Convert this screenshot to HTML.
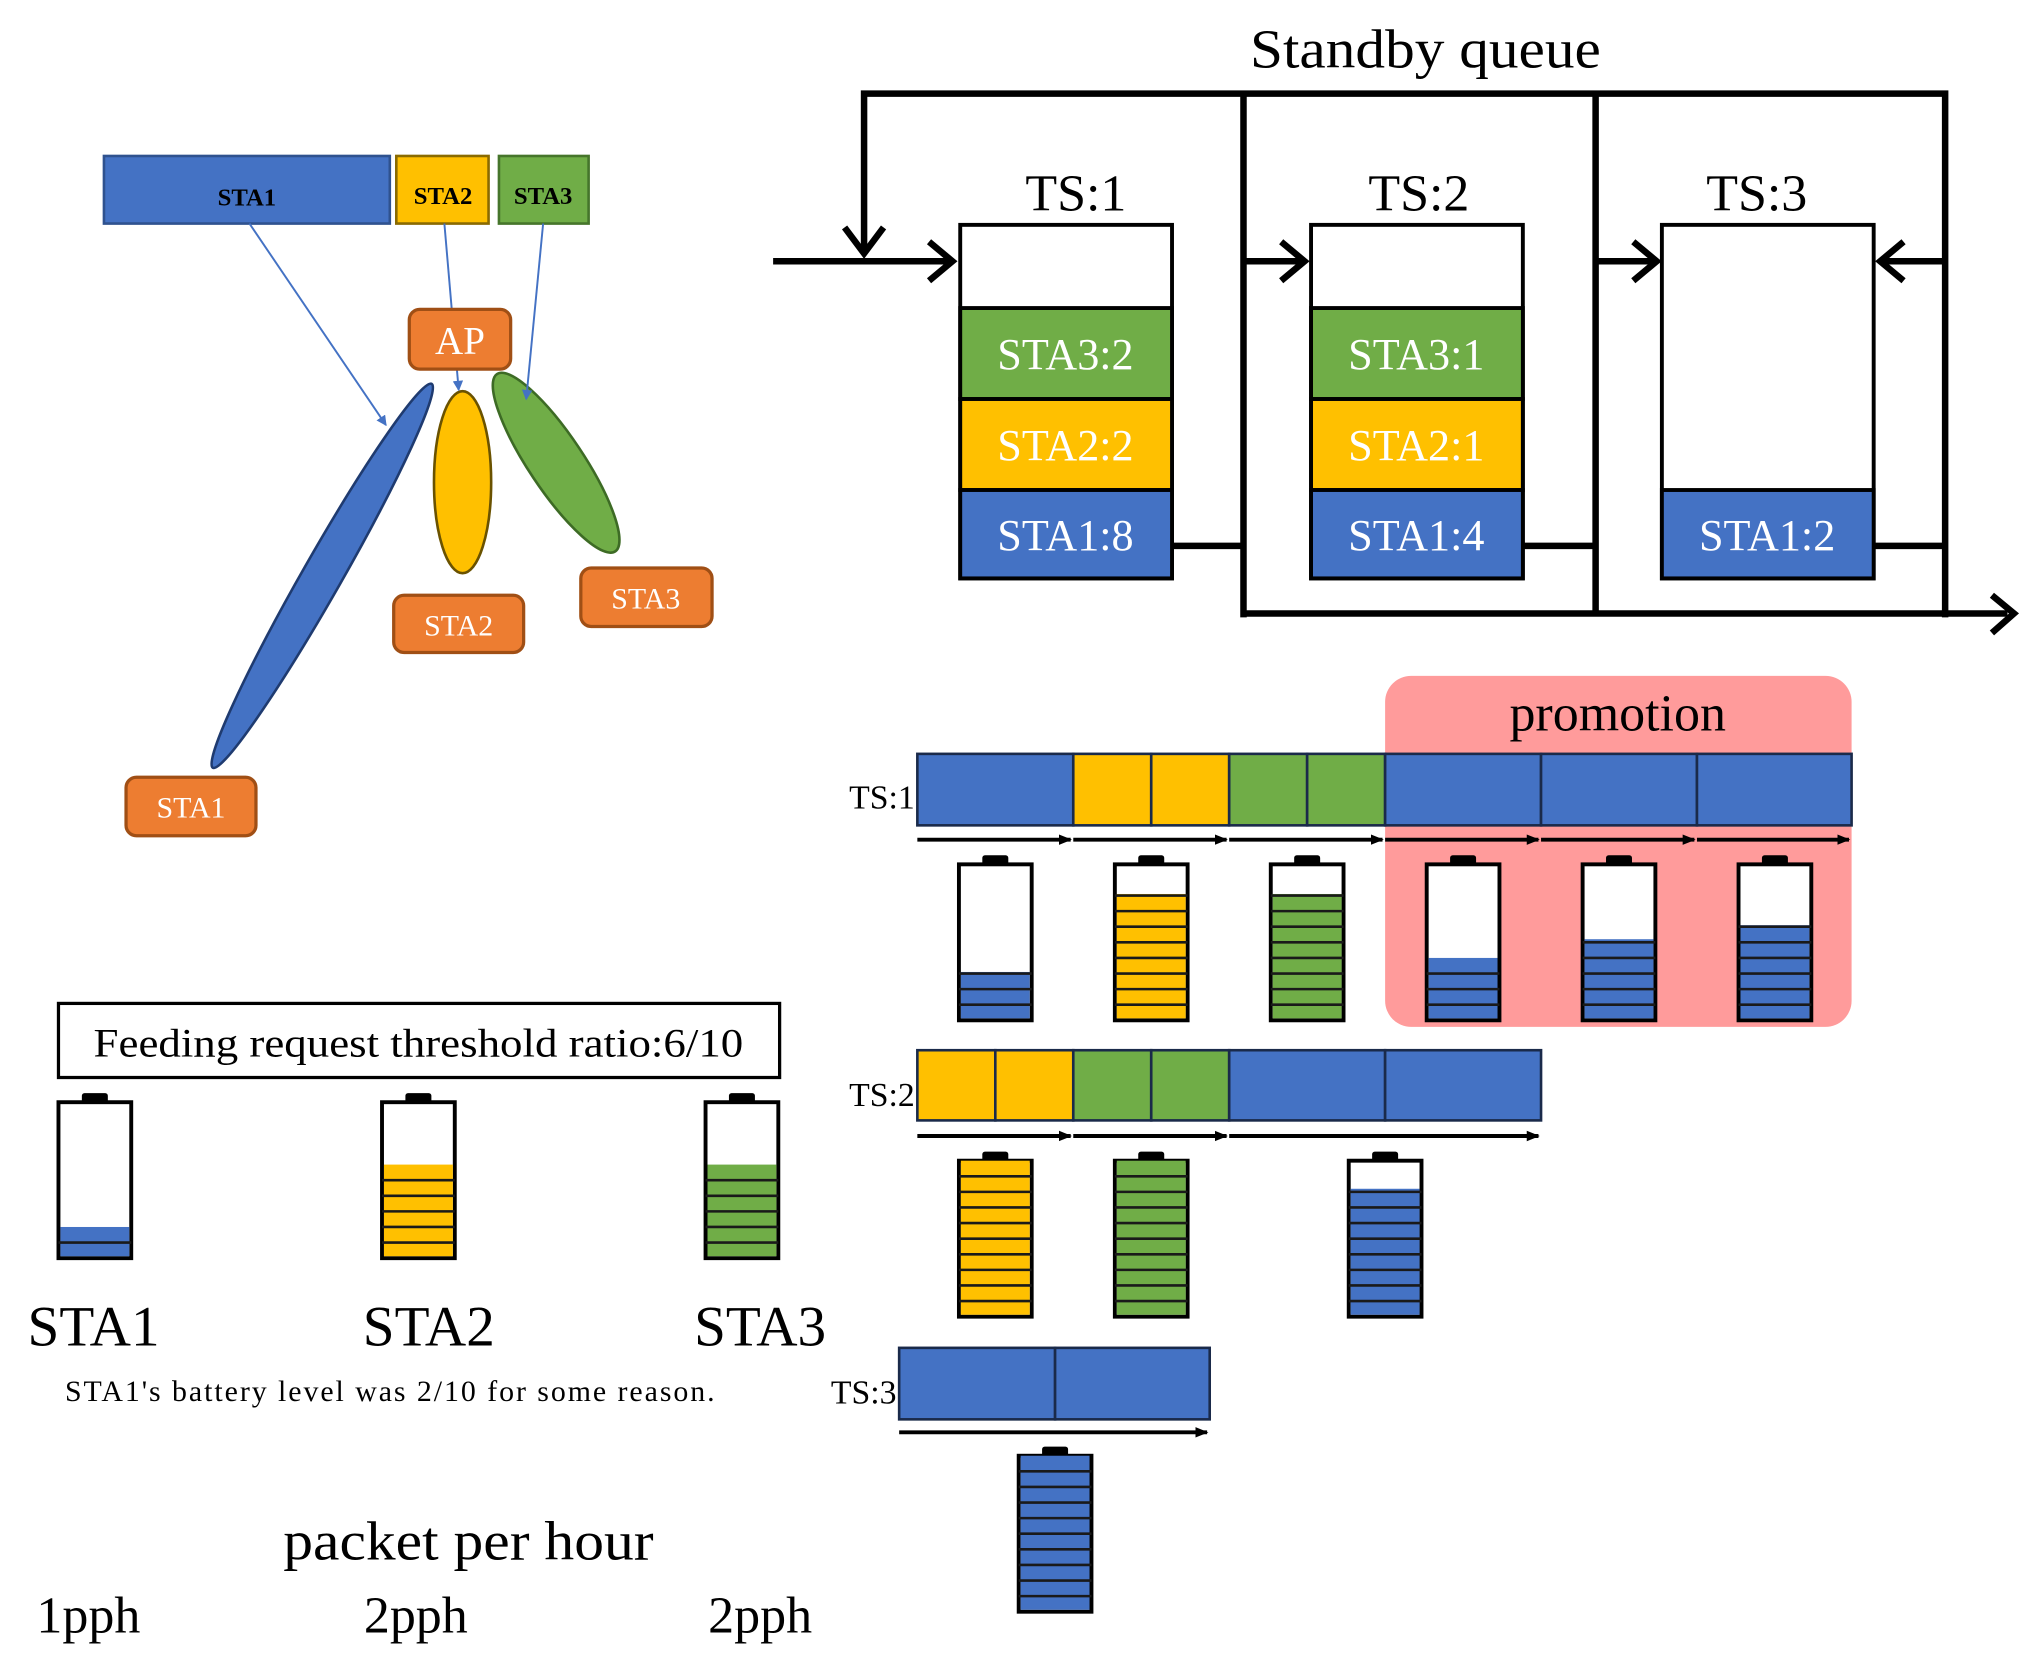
<!DOCTYPE html>
<html><head><meta charset="utf-8"><style>
html,body{margin:0;padding:0;background:#fff;}
svg{display:block;}
text{font-family:"Liberation Serif",serif;}
</style></head><body>
<svg id="s" width="2027" height="1678" viewBox="0 0 1560 1291" preserveAspectRatio="none" xmlns="http://www.w3.org/2000/svg">
<defs>
<marker id="ab" markerWidth="8" markerHeight="8" refX="7" refY="4" orient="auto" markerUnits="userSpaceOnUse"><path d="M0,0 L8,4 L0,8 z" fill="#4472C4"/></marker>
<marker id="ak" markerWidth="10" markerHeight="10" refX="9" refY="5" orient="auto" markerUnits="userSpaceOnUse"><path d="M0,1 L10,5 L0,9 z" fill="#000"/></marker>
</defs>
<!-- top-left -->
<rect x="80" y="120" width="220" height="52" fill="#4472C4" stroke="#2F528F" stroke-width="2"/>
<rect x="305" y="120" width="71" height="52" fill="#FFC000" stroke="#8a6a00" stroke-width="2"/>
<rect x="384" y="120" width="69" height="52" fill="#70AD47" stroke="#46752b" stroke-width="2"/>
<text x="190" y="158" font-size="19" font-weight="bold" text-anchor="middle">STA1</text>
<text x="341" y="157" font-size="19" font-weight="bold" text-anchor="middle">STA2</text>
<text x="418" y="157" font-size="19" font-weight="bold" text-anchor="middle">STA3</text>
<ellipse cx="248" cy="443" rx="170" ry="15" transform="rotate(-60.3 248 443)" fill="#4472C4" stroke="#1f3b70" stroke-width="2"/>
<ellipse cx="356" cy="371" rx="22" ry="70" fill="#FFC000" stroke="#6a5200" stroke-width="2"/>
<ellipse cx="428" cy="356" rx="82" ry="21" transform="rotate(56.3 428 356)" fill="#70AD47" stroke="#3d6b25" stroke-width="2"/>
<line x1="192" y1="172" x2="297" y2="327" stroke="#4472C4" stroke-width="1.5" marker-end="url(#ab)"/>
<line x1="342" y1="172" x2="353" y2="300" stroke="#4472C4" stroke-width="1.5" marker-end="url(#ab)"/>
<line x1="418" y1="172" x2="405" y2="307" stroke="#4472C4" stroke-width="1.5" marker-end="url(#ab)"/>
<g fill="#ED7D31" stroke="#a04f15" stroke-width="2.5">
<rect x="315" y="238" width="78" height="46" rx="8"/>
<rect x="303" y="458" width="100" height="44" rx="8"/>
<rect x="447" y="437" width="101" height="45" rx="8"/>
<rect x="97" y="598" width="100" height="45" rx="8"/>
</g>
<g fill="#fff" text-anchor="middle">
<text x="354" y="272" font-size="30">AP</text>
<text x="353" y="489" font-size="23">STA2</text>
<text x="497" y="468" font-size="23">STA3</text>
<text x="147" y="629" font-size="23">STA1</text>
</g>
<!-- standby queue -->
<text x="962" y="52" font-size="42" textLength="270" lengthAdjust="spacingAndGlyphs">Standby queue</text>
<g stroke="#000" stroke-width="5" fill="none">
<polyline points="665,195 665,72 1497,72 1497,475"/>
<line x1="957" y1="72" x2="957" y2="475"/>
<line x1="1228" y1="72" x2="1228" y2="472"/>
<line x1="957" y1="472" x2="1545" y2="472"/>
<polyline points="1533,458 1550,472 1533,487"/>
<line x1="595" y1="201" x2="733" y2="201"/>
<polyline points="715,186 733,201 715,216"/>
<polyline points="650,175 665,195 680,175"/>
<line x1="957" y1="201" x2="1003" y2="201"/>
<polyline points="986,186 1004,201 986,216"/>
<line x1="1228" y1="201" x2="1274" y2="201"/>
<polyline points="1257,186 1275,201 1257,216"/>
<line x1="1497" y1="201" x2="1448" y2="201"/>
<polyline points="1465,186 1447,201 1465,216"/>
<line x1="902" y1="420" x2="957" y2="420"/>
<line x1="1172" y1="420" x2="1228" y2="420"/>
<line x1="1442" y1="420" x2="1497" y2="420"/>
</g>
<g stroke="#000" stroke-width="3">
<rect x="739" y="173" width="163" height="272" fill="#fff"/>
<rect x="739" y="237" width="163" height="70" fill="#70AD47"/>
<rect x="739" y="307" width="163" height="70" fill="#FFC000"/>
<rect x="739" y="377" width="163" height="68" fill="#4472C4"/>
<rect x="1009" y="173" width="163" height="272" fill="#fff"/>
<rect x="1009" y="237" width="163" height="70" fill="#70AD47"/>
<rect x="1009" y="307" width="163" height="70" fill="#FFC000"/>
<rect x="1009" y="377" width="163" height="68" fill="#4472C4"/>
<rect x="1279" y="173" width="163" height="272" fill="#fff"/>
<rect x="1279" y="377" width="163" height="68" fill="#4472C4"/>
</g>
<g font-size="40" text-anchor="middle">
<text x="828" y="162">TS:1</text><text x="1092" y="162">TS:2</text><text x="1352" y="162">TS:3</text>
</g>
<g font-size="34" fill="#fff" text-anchor="middle">
<text x="820" y="284">STA3:2</text><text x="820" y="354">STA2:2</text><text x="820" y="423">STA1:8</text>
<text x="1090" y="284">STA3:1</text><text x="1090" y="354">STA2:1</text><text x="1090" y="423">STA1:4</text>
<text x="1360" y="423">STA1:2</text>
</g>
<!-- promotion -->
<rect x="1066" y="520" width="359" height="270" rx="20" fill="#FF9B9B"/>
<text x="1245" y="562" font-size="40" text-anchor="middle">promotion</text>
<g id="bars" stroke="#1a2a4a" stroke-width="2"></g>
<g font-size="26" text-anchor="end">
<text x="704" y="622">TS:1</text><text x="704" y="851">TS:2</text><text x="690" y="1080">TS:3</text>
</g>
<g id="arrs" stroke="#000" stroke-width="3"></g>
<g id="bats"></g>
<!-- bottom-left -->
<rect x="45" y="772" width="555" height="57" fill="#fff" stroke="#000" stroke-width="2.5"/>
<text x="72" y="813" font-size="31" textLength="500" lengthAdjust="spacingAndGlyphs">Feeding request threshold ratio:6/10</text>
<g font-size="44" text-anchor="middle">
<text x="72" y="1035">STA1</text><text x="330" y="1035">STA2</text><text x="585" y="1035">STA3</text>
</g>
<text x="50" y="1078" font-size="23" textLength="500" lengthAdjust="spacing">STA1's battery level was 2/10 for some reason.</text>
<text x="218" y="1200" font-size="42" textLength="285" lengthAdjust="spacingAndGlyphs">packet per hour</text>
<g font-size="40" text-anchor="middle">
<text x="68" y="1256">1pph</text><text x="320" y="1256">2pph</text><text x="585" y="1256">2pph</text>
</g>
</svg>
<script>
var NS="http://www.w3.org/2000/svg";
function el(p,t,a){var e=document.createElementNS(NS,t);for(var k in a)e.setAttribute(k,a[k]);p.appendChild(e);return e;}
var B="#4472C4",Y="#FFC000",G="#70AD47";
var bars=document.getElementById("bars");
function row(y,h,segs){segs.forEach(function(s){el(bars,"rect",{x:s[0],y:y,width:s[1]-s[0],height:h,fill:s[2]});});}
row(580,55,[[706,826,B],[826,886,Y],[886,946,Y],[946,1006,G],[1006,1066,G],[1066,1186,B],[1186,1306,B],[1306,1425,B]]);
row(808,54,[[706,766,Y],[766,826,Y],[826,886,G],[886,946,G],[946,1066,B],[1066,1186,B]]);
row(1037,55,[[692,812,B],[812,931,B]]);
var arrs=document.getElementById("arrs");
function ar(x1,x2,y){el(arrs,"line",{x1:x1,y1:y,x2:x2-2,y2:y,"marker-end":"url(#ak)"});}
[[706,826],[826,946],[946,1066],[1066,1186],[1186,1306],[1306,1425]].forEach(function(a){ar(a[0],a[1],646);});
[[706,826],[826,946],[946,1186]].forEach(function(a){ar(a[0],a[1],874);});
ar(692,931,1102);
var bats=document.getElementById("bats");
function bat(cx,top,h,f,c){var w=56,x=cx-w/2;
 el(bats,"rect",{x:cx-10,y:top-7,width:20,height:8,fill:"#000",rx:2});
 el(bats,"rect",{x:x,y:top,width:w,height:h,fill:"#fff",stroke:"#000","stroke-width":3});
 var fh=h*f;el(bats,"rect",{x:x+1.5,y:top+h-fh,width:w-3,height:fh-1.5,fill:c});
 var seg=h/10;
 for(var i=1;i<Math.round(f*10)+1;i++){var yy=top+h-i*seg;if(yy>top+h-fh+1)el(bats,"line",{x1:x,y1:yy,x2:x+w,y2:yy,stroke:"#1a1a1a","stroke-width":2});}
}
bat(766,665,120,0.31,B);bat(886,665,120,0.81,Y);bat(1006,665,120,0.81,G);
bat(1126,665,120,0.4,B);bat(1246,665,120,0.52,B);bat(1366,665,120,0.61,B);
bat(766,893,120,1,Y);bat(886,893,120,1,G);bat(1066,893,120,0.82,B);
bat(812,1120,120,1,B);
bat(73,848,120,0.2,B);bat(322,848,120,0.6,Y);bat(571,848,120,0.6,G);
</script>
</body></html>
